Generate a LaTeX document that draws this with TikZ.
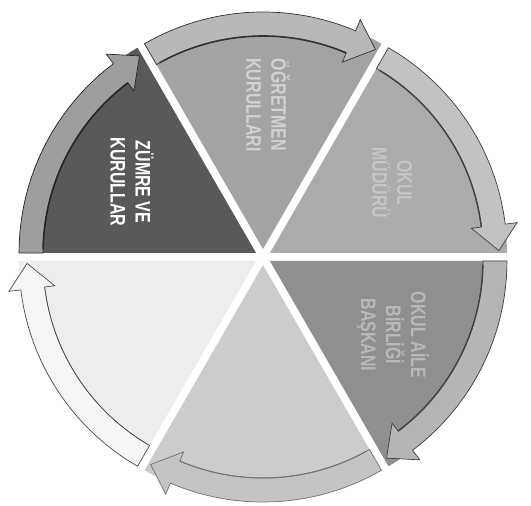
\documentclass[tikz,border=0pt]{standalone}
\usepackage{fontspec}
\newfontfamily\labfont[FakeStretch=0.76]{Liberation Sans}
\usetikzlibrary{calc}
\definecolor{wA}{gray}{0.35}\definecolor{bA}{gray}{0.62}
\definecolor{wB}{gray}{0.64}\definecolor{bB}{gray}{0.72}
\definecolor{wC}{gray}{0.67}\definecolor{bC}{gray}{0.76}
\definecolor{wD}{gray}{0.56}\definecolor{bD}{gray}{0.71}
\definecolor{wE}{gray}{0.80}\definecolor{bE}{gray}{0.77}
\definecolor{wF}{gray}{0.93}\definecolor{bF}{gray}{0.96}
\tikzset{
  lab/.style={font=\labfont\bfseries\fontsize{21}{25}\selectfont, align=center, rotate=-90, inner sep=0pt},
}
\newcommand\pieseg[5]{%
  \pgfmathsetmacro\ma{#1+30}
  \coordinate (P) at ($(C)+(\ma:8)$);
  \fill[#2] (P) -- ($(P)+(#1:237)$) arc[start angle=#1, end angle=#1+60, radius=237] -- cycle;
  \filldraw[fill=#3, draw=#4, line width=0.7pt]
    ($(P)+(#1+60:237)$) arc[start angle=#1+60, end angle=#1+7, radius=237]
    -- ($(P)+(#1+7:249)$) -- ($(P)+(#1+0.6:229)$) -- ($(P)+(#1+7:203)$)
    -- ($(P)+(#1+7:213)$) arc[start angle=#1+7, end angle=#1+60, radius=213] -- cycle;
  \draw[#4, line width=#5] ($(P)+(#1+7:213)$) arc[start angle=#1+7, end angle=#1+59, radius=213];
}
\begin{document}
\begin{tikzpicture}[x=1pt,y=1pt]
\useasboundingbox (0,0) rectangle (531,506);
\fill[white] (0,0) rectangle (531,506);
\coordinate (C) at (263,249);
\pieseg{120}{wA}{bA}{black!85}{1.6pt}
\pieseg{60}{wB}{bB}{black!80}{1.6pt}
\pieseg{0}{wC}{bC}{black!75}{1.4pt}
\pieseg{300}{wD}{bD}{black!75}{1.4pt}
\pieseg{240}{wE}{bE}{black!55}{1.0pt}
\pieseg{180}{wF}{bF}{black!70}{0.5pt}
\node[lab, text=white] (zumre) at (132,324) {ZÜMRE VE\\KURULLAR};
\node[lab, text=gray!35] (ogretmen) at (268,401) {ÖĞRETMEN\\KURULLARI};
\node[lab, text=gray!45] (mudur) at (392,323) {OKUL\\MÜDÜRÜ};
\node[lab, text=gray!55] (aile) at (393,171) {OKUL AİLE\\BİRLİĞİ\\BAŞKANI};
\end{tikzpicture}
\end{document}
